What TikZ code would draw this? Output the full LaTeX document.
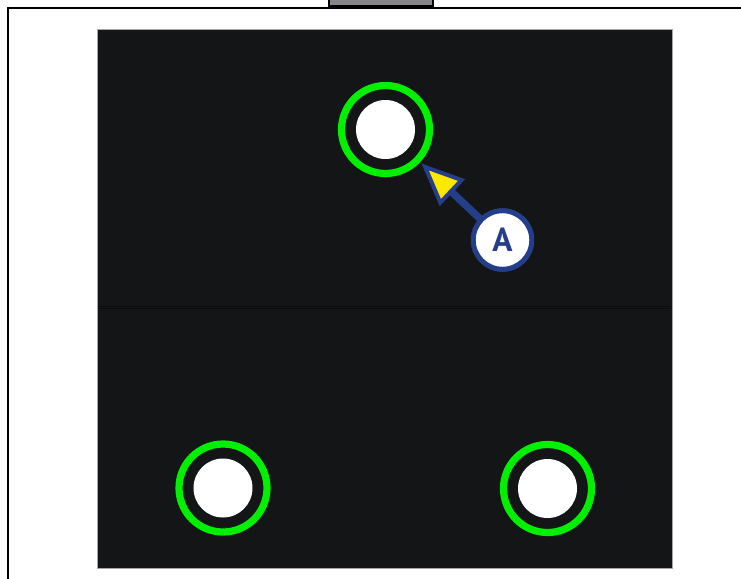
\documentclass[tikz,border=0pt]{standalone}
\usepackage{fontspec}
\setmainfont{PT Sans}
\usetikzlibrary{arrows.meta}
\definecolor{panel}{HTML}{131516}
\definecolor{ringgreen}{HTML}{00F000}
\definecolor{calloutblue}{HTML}{253E8A}
\definecolor{tipyellow}{HTML}{FFE800}
\definecolor{tabgray}{HTML}{86868A}
\definecolor{seam}{HTML}{0A0B0B}
\tikzset{
  hole/.style={circle, draw=ringgreen, line width=5.4pt, fill=panel, minimum size=88*0.75pt, inner sep=0pt, outer sep=4pt},
  whitedisk/.style={circle, fill=white, minimum size=59*0.75pt, inner sep=0pt},
  callout/.style={circle, draw=calloutblue, line width=3.7pt, fill=white, minimum size=58.5*0.75pt, inner sep=0pt,
    font=\bfseries\fontsize{25}{25}\selectfont, text=calloutblue},
  pointer/.style={draw=calloutblue, line width=5.5pt,
    -{Triangle[length=32pt, width=27pt, fill=tipyellow, line width=3pt]}},
}
\begin{document}
\begin{tikzpicture}[x=0.75pt, y=-0.75pt]
\useasboundingbox (0,0) rectangle (741,578);
\fill[white] (0,0) rectangle (741,578);
% outer frame
\draw[black, line width=1.9pt] (8,580) -- (8,8) -- (742,8);
% tab at top
\draw[black, line width=1.3pt, fill=tabgray] (329,-3) rectangle (433,6);
% dark panel
\fill[panel] (97,29) rectangle (672,568);
\draw[gray!70, line width=0.6pt] (97,29) rectangle (672,568);
% seam
\draw[seam, line width=1.3pt] (98,306.5) -- (671,306.5);
\draw[black!30!panel, line width=0.8pt] (98,308.5) -- (671,308.5);
% holes
\node[hole] (ring1) at (385.5,129.5) {};
\node[whitedisk] (hole1) at (ring1) {};
\node[hole] (ring2) at (223,488) {};
\node[whitedisk] (hole2) at (ring2) {};
\node[hole] (ring3) at (547.5,488.5) {};
\node[whitedisk] (hole3) at (ring3) {};
% callout
\node[callout] (A) at (502.5,240) {};
\draw[pointer] (A) -- (ring1);
\node[callout] at (A) {A};
\end{tikzpicture}
\end{document}
